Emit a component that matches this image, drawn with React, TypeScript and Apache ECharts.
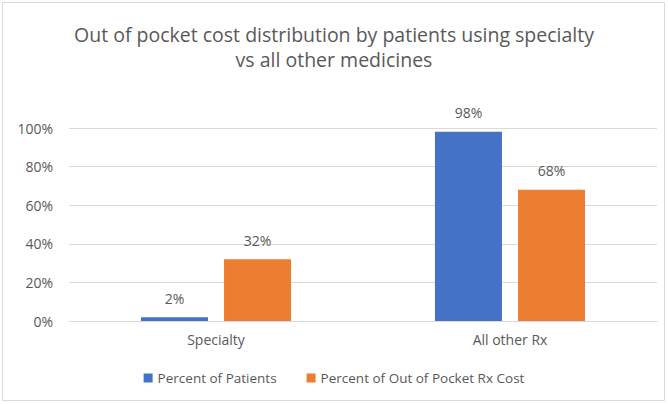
import React, { useEffect, useRef } from "react";
import * as echarts from "echarts";

const categories = ["Specialty", "All other Rx"];
const patientsPct = [2, 98];
const costPct = [32, 68];
const seriesNames = ["Percent of Patients", "Percent of Out of Pocket Rx Cost"];
const titleText = "Out of pocket cost distribution by patients using specialty\nvs all other medicines";

export default function App() {
  const ref = useRef<HTMLDivElement>(null);
  useEffect(() => {
    document.body.style.margin = "0";
    const chart = echarts.init(ref.current!, null, { renderer: "svg" });
    const font = "'Open Sans', 'Liberation Sans', sans-serif";
    const label = {
      show: true,
      position: "top",
      formatter: "{c}%",
      color: "#595959",
      fontSize: 14,
      fontFamily: font,
      distance: 12,
    };
    chart.setOption({
      animation: false,
      textStyle: { fontFamily: font },
      title: {
        text: titleText,
        left: "center",
        top: 17,
        textStyle: {
          color: "#595959",
          fontSize: 19.5,
          fontWeight: "normal",
          lineHeight: 25,
          fontFamily: font,
        },
      },
      graphic: [
        {
          type: "rect",
          shape: { x: 2.5, y: 2.5, width: 662, height: 398 },
          style: { fill: "none", stroke: "#d9d9d9", lineWidth: 1 },
          silent: true,
        },
      ],
      legend: {
        bottom: 14,
        left: "center",
        itemWidth: 9,
        itemHeight: 9,
        itemGap: 30,
        icon: "rect",
        textStyle: { color: "#595959", fontSize: 13.5, fontFamily: font },
        data: seriesNames,
      },
      grid: { left: 69, right: 11, top: 128, bottom: 83, containLabel: false },
      xAxis: {
        type: "category",
        data: categories,
        axisTick: { show: false },
        axisLine: { lineStyle: { color: "#d9d9d9" } },
        axisLabel: { color: "#595959", fontSize: 14, fontFamily: font, margin: 11 },
      },
      yAxis: {
        type: "value",
        min: 0,
        max: 100,
        interval: 20,
        axisLabel: {
          formatter: "{value}%",
          color: "#595959",
          fontSize: 14,
          fontFamily: font,
          margin: 16,
        },
        splitLine: { lineStyle: { color: "#d9d9d9" } },
        axisLine: { show: false },
        axisTick: { show: false },
      },
      series: [
        {
          name: seriesNames[0],
          type: "bar",
          data: patientsPct,
          itemStyle: { color: "#4472C4" },
          barWidth: 67,
          barGap: "24%",
          label,
        },
        {
          name: seriesNames[1],
          type: "bar",
          data: costPct,
          itemStyle: { color: "#ED7D31" },
          barWidth: 67,
          label,
        },
      ],
    });
    return () => chart.dispose();
  }, []);
  return <div ref={ref} style={{ width: 668, height: 404 }} />;
}
